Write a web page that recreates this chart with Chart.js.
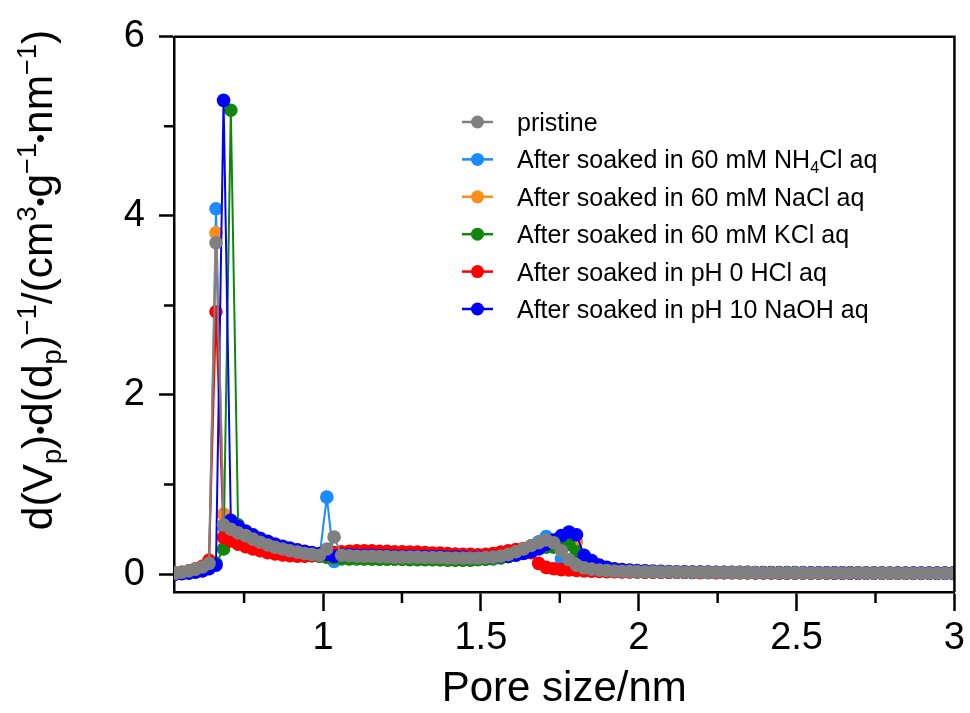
<!DOCTYPE html>
<html>
<head>
<meta charset="utf-8">
<title>Pore size distribution</title>
<script src="https://cdn.jsdelivr.net/npm/chart.js@4.4.1/dist/chart.umd.min.js"></script>
<style>
  body { margin: 0; background: #fff; }
  #wrap { width: 970px; height: 713px; position: relative; }
</style>
</head>
<body>
<div id="wrap"><canvas id="psd"></canvas></div>
<script>
// Pore size (nm)
const poreSize = [
  0.532, 0.553, 0.575, 0.596, 0.618, 0.639, 0.661, 0.685, 0.708, 0.731,
  0.755, 0.778, 0.801, 0.825, 0.848, 0.872, 0.895, 0.919, 0.942, 0.965,
  0.989, 1.012, 1.035, 1.059, 1.083, 1.107, 1.131, 1.155, 1.179, 1.203,
  1.227, 1.251, 1.275, 1.299, 1.323, 1.347, 1.371, 1.395, 1.419, 1.443,
  1.467, 1.491, 1.515, 1.539, 1.563, 1.587, 1.611, 1.635, 1.659, 1.683,
  1.707, 1.731, 1.755, 1.779, 1.803, 1.827, 1.851, 1.875, 1.899, 1.923,
  1.947, 1.971, 1.995, 2.020, 2.045, 2.070, 2.095, 2.120, 2.145, 2.170,
  2.195, 2.220, 2.245, 2.270, 2.295, 2.320, 2.345, 2.370, 2.395, 2.420,
  2.445, 2.470, 2.495, 2.520, 2.545, 2.570, 2.595, 2.620, 2.645, 2.670,
  2.695, 2.720, 2.745, 2.770, 2.795, 2.820, 2.845, 2.870, 2.895, 2.920,
  2.945, 2.970, 2.995
];

// d(Vp)/d(dp) for each sample
const pristine = [
  0.01, 0.02, 0.035, 0.055, 0.08, 0.12, 3.70, 0.55, 0.50, 0.46,
  0.43, 0.39, 0.355, 0.325, 0.30, 0.28, 0.26, 0.245, 0.23, 0.22,
  0.21, 0.28, 0.415, 0.21, 0.205, 0.20, 0.20, 0.20, 0.195, 0.195,
  0.19, 0.19, 0.19, 0.19, 0.185, 0.185, 0.185, 0.18, 0.18, 0.18,
  0.18, 0.18, 0.185, 0.19, 0.20, 0.22, 0.25, 0.28, 0.32, 0.35,
  0.38, 0.35, 0.26, 0.16, 0.10, 0.07, 0.055, 0.045, 0.04, 0.035,
  0.032, 0.03, 0.028, 0.026, 0.025, 0.024, 0.023, 0.022, 0.021, 0.02,
  0.02, 0.019, 0.018, 0.018, 0.017, 0.017, 0.016, 0.016, 0.015, 0.015,
  0.015, 0.014, 0.014, 0.014, 0.013, 0.013, 0.013, 0.012, 0.012, 0.012,
  0.012, 0.011, 0.011, 0.011, 0.011, 0.010, 0.010, 0.010, 0.010, 0.010,
  0.010, 0.009, 0.009
];
const nh4cl = [
  0.01, 0.015, 0.03, 0.05, 0.075, 0.12, 4.08, 0.53, 0.48, 0.44,
  0.41, 0.37, 0.34, 0.31, 0.285, 0.265, 0.245, 0.23, 0.215, 0.205,
  0.20, 0.86, 0.14, 0.17, 0.175, 0.175, 0.175, 0.17, 0.17, 0.17,
  0.17, 0.17, 0.165, 0.165, 0.165, 0.165, 0.16, 0.16, 0.16, 0.16,
  0.16, 0.165, 0.17, 0.18, 0.19, 0.21, 0.24, 0.27, 0.31, 0.36,
  0.42, 0.33, 0.17, 0.09, 0.06, 0.05, 0.042, 0.037, 0.033, 0.03,
  0.028, 0.026, 0.025, 0.024, 0.023, 0.022, 0.021, 0.02, 0.02, 0.019,
  0.019, 0.018, 0.018, 0.017, 0.017, 0.016, 0.016, 0.015, 0.015, 0.015,
  0.014, 0.014, 0.014, 0.013, 0.013, 0.013, 0.012, 0.012, 0.012, 0.012,
  0.011, 0.011, 0.011, 0.011, 0.010, 0.010, 0.010, 0.010, 0.010, 0.009,
  0.009, 0.009, 0.009
];
const nacl = [
  0.014, 0.02, 0.035, 0.06, 0.09, 0.16, 3.81, 0.67, 0.49, 0.45,
  0.415, 0.38, 0.345, 0.315, 0.29, 0.27, 0.25, 0.235, 0.22, 0.21,
  0.20, 0.19, 0.18, 0.175, 0.175, 0.175, 0.17, 0.17, 0.17, 0.17,
  0.17, 0.165, 0.165, 0.165, 0.165, 0.16, 0.16, 0.16, 0.16, 0.16,
  0.16, 0.165, 0.17, 0.175, 0.185, 0.20, 0.22, 0.25, 0.28, 0.31,
  0.33, 0.35, 0.38, 0.38, 0.36, 0.12, 0.07, 0.05, 0.04, 0.035,
  0.031, 0.029, 0.027, 0.025, 0.024, 0.023, 0.022, 0.021, 0.02, 0.02,
  0.019, 0.018, 0.018, 0.017, 0.017, 0.016, 0.016, 0.015, 0.015, 0.015,
  0.014, 0.014, 0.014, 0.013, 0.013, 0.013, 0.012, 0.012, 0.012, 0.012,
  0.011, 0.011, 0.011, 0.011, 0.010, 0.010, 0.010, 0.010, 0.010, 0.009,
  0.009, 0.009, 0.009
];
const kcl = [
  0.01, 0.015, 0.03, 0.045, 0.07, 0.09, 0.12, 0.28, 5.18, 0.55,
  0.47, 0.42, 0.37, 0.335, 0.305, 0.28, 0.26, 0.24, 0.225, 0.21,
  0.20, 0.19, 0.18, 0.175, 0.17, 0.17, 0.17, 0.17, 0.165, 0.165,
  0.165, 0.165, 0.16, 0.16, 0.16, 0.16, 0.16, 0.155, 0.155, 0.155,
  0.155, 0.16, 0.165, 0.17, 0.18, 0.195, 0.215, 0.24, 0.27, 0.29,
  0.30, 0.30, 0.31, 0.33, 0.25, 0.10, 0.06, 0.045, 0.038, 0.033,
  0.03, 0.028, 0.026, 0.025, 0.024, 0.023, 0.022, 0.021, 0.02, 0.02,
  0.019, 0.018, 0.018, 0.017, 0.017, 0.016, 0.016, 0.015, 0.015, 0.015,
  0.014, 0.014, 0.014, 0.013, 0.013, 0.013, 0.012, 0.012, 0.012, 0.012,
  0.011, 0.011, 0.011, 0.011, 0.010, 0.010, 0.010, 0.010, 0.010, 0.009,
  0.009, 0.009, 0.009
];
const hcl = [
  0.01, 0.02, 0.035, 0.055, 0.085, 0.15, 2.93, 0.41, 0.37, 0.335,
  0.305, 0.28, 0.26, 0.24, 0.225, 0.215, 0.205, 0.20, 0.20, 0.205,
  0.215, 0.225, 0.24, 0.25, 0.255, 0.26, 0.26, 0.26, 0.255, 0.255,
  0.25, 0.25, 0.245, 0.245, 0.24, 0.235, 0.235, 0.23, 0.225, 0.22,
  0.22, 0.215, 0.22, 0.23, 0.245, 0.26, 0.275, 0.285, 0.24, 0.12,
  0.075, 0.06, 0.05, 0.045, 0.04, 0.036, 0.033, 0.03, 0.028, 0.026,
  0.025, 0.024, 0.023, 0.022, 0.021, 0.02, 0.02, 0.019, 0.018, 0.018,
  0.017, 0.017, 0.016, 0.016, 0.015, 0.015, 0.015, 0.014, 0.014, 0.014,
  0.013, 0.013, 0.013, 0.012, 0.012, 0.012, 0.012, 0.011, 0.011, 0.011,
  0.011, 0.010, 0.010, 0.010, 0.010, 0.010, 0.009, 0.009, 0.009, 0.009,
  0.009, 0.009, 0.008
];
const naoh = [
  0.0, 0.005, 0.01, 0.02, 0.035, 0.06, 0.10, 5.29, 0.60, 0.53,
  0.48, 0.44, 0.40, 0.365, 0.335, 0.31, 0.29, 0.27, 0.255, 0.24,
  0.23, 0.22, 0.20, 0.215, 0.215, 0.21, 0.21, 0.21, 0.205, 0.205,
  0.20, 0.20, 0.20, 0.20, 0.195, 0.195, 0.195, 0.19, 0.19, 0.19,
  0.185, 0.185, 0.185, 0.19, 0.195, 0.20, 0.21, 0.23, 0.25, 0.28,
  0.33, 0.38, 0.43, 0.47, 0.44, 0.21, 0.15, 0.10, 0.075, 0.06,
  0.05, 0.045, 0.04, 0.036, 0.033, 0.03, 0.028, 0.026, 0.025, 0.024,
  0.023, 0.022, 0.021, 0.02, 0.02, 0.019, 0.019, 0.018, 0.018, 0.017,
  0.017, 0.016, 0.016, 0.016, 0.015, 0.015, 0.015, 0.014, 0.014, 0.014,
  0.013, 0.013, 0.013, 0.013, 0.012, 0.012, 0.012, 0.012, 0.011, 0.011,
  0.011, 0.011, 0.011
];

// legend names (_x = subscript)
const seriesNames = [
  'pristine',
  'After soaked in 60 mM NH_4Cl aq',
  'After soaked in 60 mM NaCl aq',
  'After soaked in 60 mM KCl aq',
  'After soaked in pH 0 HCl aq',
  'After soaked in pH 10 NaOH aq'
];
const xTickLabels = [1, 1.5, 2, 2.5, 3];
const yTickLabels = [0, 2, 4, 6];
const xTitle = 'Pore size/nm';
// _ subscript, ^ superscript, * = centred dot
const yTitle = 'd(V_p)*d(d_p)^{−1}/(cm^3*g^{−1}*nm^{−1})';

const seriesValues = [pristine, nh4cl, nacl, kcl, hcl, naoh];
const seriesColors = ['#808080', '#1a8cff', '#ff8c1a', '#0f870f', '#ff0000', '#0000ff'];
const drawOrder = [0, 5, 4, 3, 2, 1];

const FONT = '"Liberation Sans", Arial, sans-serif';
Chart.defaults.font.family = FONT;
Chart.defaults.color = '#000';

const near = (a, b) => Math.abs(a - b) < 1e-6;

// small helpers for sub/superscript text
function parseRich(str) {
  const out = [];
  let buf = '', i = 0;
  const flush = () => { if (buf) { out.push({ t: buf, m: 0 }); buf = ''; } };
  while (i < str.length) {
    const c = str[i];
    if (c === '_' || c === '^') {
      flush();
      let t;
      if (str[i + 1] === '{') {
        const j = str.indexOf('}', i);
        t = str.slice(i + 2, j);
        i = j + 1;
      } else {
        t = str[i + 1];
        i += 2;
      }
      out.push({ t, m: c === '_' ? 1 : 2 });
    } else if (c === '*') {
      flush();
      out.push({ t: '•', m: 3 });
      i++;
    } else {
      buf += c;
      i++;
    }
  }
  flush();
  return out;
}

function drawRich(ctx, parts, x, y, size, measureOnly) {
  let w = 0;
  parts.forEach(p => {
    const s = p.m === 3 ? size * 0.6 : p.m ? size * 0.64 : size;
    ctx.font = s + 'px ' + FONT;
    let dy = 0;
    if (p.m === 1) dy = size * 0.2;
    if (p.m === 2) dy = -size * 0.38;
    if (p.m === 3) dy = -size * 0.06;
    if (!measureOnly) ctx.fillText(p.t, x + w, y + dy);
    w += ctx.measureText(p.t).width;
  });
  return w;
}

const decorPlugin = {
  id: 'decor',
  afterDraw(chart) {
    const { ctx, chartArea: a, scales } = chart;
    ctx.save();
    ctx.strokeStyle = '#000';
    ctx.lineWidth = 2.5;

    // top and right frame
    ctx.beginPath();
    ctx.moveTo(a.left, a.top);
    ctx.lineTo(a.right, a.top);
    ctx.lineTo(a.right, a.bottom);
    ctx.stroke();

    // minor ticks
    ctx.beginPath();
    scales.x.ticks.forEach(t => {
      if (!xTickLabels.some(v => near(v, t.value))) {
        const px = scales.x.getPixelForValue(t.value);
        ctx.moveTo(px, a.bottom);
        ctx.lineTo(px, a.bottom + 11);
      }
    });
    scales.y.ticks.forEach(t => {
      if (!yTickLabels.some(v => near(v, t.value))) {
        const py = scales.y.getPixelForValue(t.value);
        ctx.moveTo(a.left - 10, py);
        ctx.lineTo(a.left, py);
      }
    });
    ctx.stroke();

    // y axis title
    ctx.fillStyle = '#000';
    ctx.textBaseline = 'alphabetic';
    ctx.textAlign = 'left';
    const yParts = parseRich(yTitle);
    ctx.translate(52, 280);
    ctx.rotate(-Math.PI / 2);
    const w = drawRich(ctx, yParts, 0, 0, 42.5, true);
    drawRich(ctx, yParts, -w / 2, 0, 42.5);
    ctx.restore();

    // legend
    ctx.save();
    seriesNames.forEach((name, i) => {
      const y = 122 + i * 37.4;
      ctx.strokeStyle = seriesColors[i];
      ctx.fillStyle = seriesColors[i];
      ctx.lineWidth = 2.5;
      ctx.beginPath();
      ctx.moveTo(462, y);
      ctx.lineTo(493, y);
      ctx.stroke();
      ctx.beginPath();
      ctx.arc(477.5, y, 6.5, 0, Math.PI * 2);
      ctx.fill();
      ctx.fillStyle = '#000';
      ctx.textBaseline = 'alphabetic';
      drawRich(ctx, parseRich(name), 517, y + 9, 25);
    });
    ctx.restore();
  }
};

const onGrid = (v, step) => Math.abs(v / step - Math.round(v / step)) < 1e-6;

new Chart(document.getElementById('psd'), {
  type: 'line',
  data: {
    datasets: seriesValues.map((vals, i) => ({
      label: seriesNames[i],
      data: vals.map((v, k) => ({ x: poreSize[k], y: v })),
      borderColor: seriesColors[i],
      backgroundColor: seriesColors[i],
      borderWidth: 2,
      pointRadius: 6.8,
      pointHoverRadius: 6.8,
      pointBorderWidth: 0,
      tension: 0,
      order: drawOrder[i]
    }))
  },
  options: {
    responsive: true,
    maintainAspectRatio: false,
    animation: false,
    events: [],
    layout: { padding: { top: 36, right: 15, left: 0, bottom: 0 } },
    plugins: { legend: { display: false }, tooltip: { enabled: false } },
    scales: {
      x: {
        type: 'linear',
        min: 0.528,
        max: 3,
        border: { display: true, color: '#000', width: 2.5 },
        grid: {
          drawOnChartArea: false,
          drawTicks: true,
          tickLength: 19,
          tickWidth: 2.5,
          tickColor: c => xTickLabels.some(v => near(v, c.tick.value)) ? '#000' : 'rgba(0,0,0,0)'
        },
        ticks: {
          stepSize: 0.25,
          includeBounds: false,
          autoSkip: false,
          maxRotation: 0,
          padding: 5,
          color: '#000',
          font: { size: 38 },
          callback: v => {
            const t = xTickLabels.find(t => near(t, v));
            return t === undefined ? '' : String(t);
          }
        },
        afterBuildTicks: s => { s.ticks = s.ticks.filter(t => onGrid(t.value, 0.25)); },
        afterFit: s => { s.height = 121; },
        title: { display: true, text: xTitle, color: '#000', font: { size: 42 }, padding: { top: 0, bottom: -2 } }
      },
      y: {
        type: 'linear',
        min: -0.2,
        max: 6,
        border: { display: true, color: '#000', width: 2.5 },
        grid: {
          drawOnChartArea: false,
          drawTicks: true,
          tickLength: 15,
          tickWidth: 2.5,
          tickColor: c => yTickLabels.some(v => near(v, c.tick.value)) ? '#000' : 'rgba(0,0,0,0)'
        },
        ticks: {
          stepSize: 1,
          includeBounds: false,
          padding: 14,
          color: '#000',
          font: { size: 38 },
          callback: v => {
            const t = yTickLabels.find(t => near(t, v));
            return t === undefined ? '' : String(t);
          }
        },
        afterBuildTicks: s => { s.ticks = s.ticks.filter(t => onGrid(t.value, 1)); },
        afterFit: s => { s.width = 174; }
      }
    }
  },
  plugins: [decorPlugin]
});
</script>
</body>
</html>
